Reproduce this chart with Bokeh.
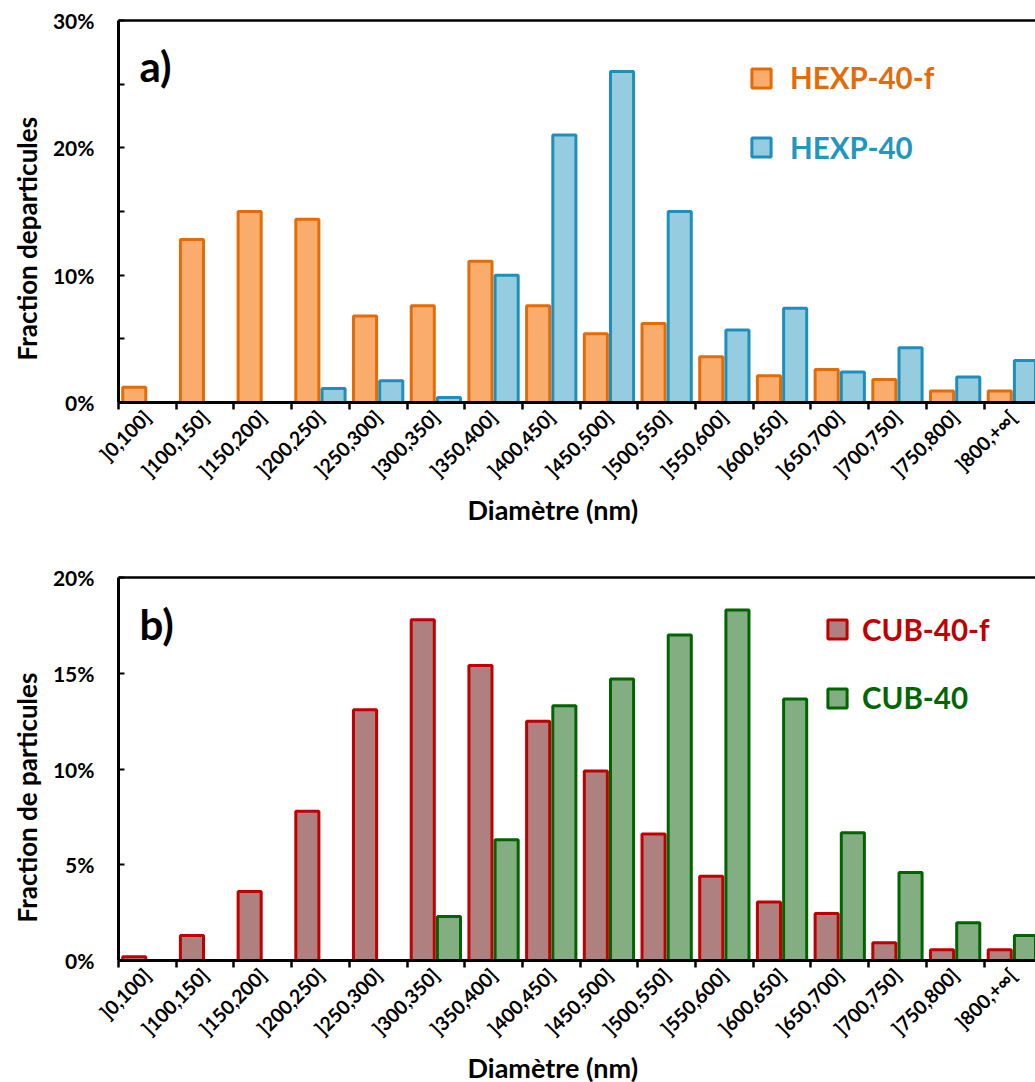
import math
import numpy as np
from bokeh.plotting import figure
from bokeh.models import (Range1d, FixedTicker, NumeralTickFormatter, LinearAxis,
                          Legend, LegendItem, Label, Title, ColumnDataSource)
from bokeh.layouts import column
from bokeh.embed import file_html
from bokeh.resources import INLINE

categories = ["]0,100]", "]100,150]", "]150,200]", "]200,250]", "]250,300]",
              "]300,350]", "]350,400]", "]400,450]", "]450,500]", "]500,550]",
              "]550,600]", "]600,650]", "]650,700]", "]700,750]", "]750,800]",
              "]800,+\u221e["]

# values in percent
hexp40f = [1.2, 12.8, 15.0, 14.4, 6.8, 7.6, 11.1, 7.6, 5.4, 6.2, 3.6, 2.1, 2.6, 1.8, 0.9, 0.9]
hexp40 = [0, 0, 0, 1.1, 1.7, 0.4, 10.0, 21.0, 26.0, 15.0, 5.7, 7.4, 2.4, 4.3, 2.0, 3.3]
cub40f = [0.2, 1.3, 3.6, 7.8, 13.1, 17.8, 15.4, 12.5, 9.9, 6.6, 4.4, 3.05, 2.45, 0.93, 0.56, 0.56]
cub40 = [0, 0, 0, 0, 0, 2.3, 6.3, 13.3, 14.7, 17.0, 18.3, 13.65, 6.67, 4.6, 1.97, 1.3]

FONT = "Lato"
CAT_PX = 57.7
FRAME_W = 917


def panel(s1, s2, names, fills, lines, textcols, ymax, ticks, minor, ylabel,
          letter, frame_h, top, bottom, letter_y, ytitle_off, leg_x, leg_y, leg_gap, leg_standoff):
    n = len(categories)
    centers = [i + 0.5 for i in range(n)]
    xend = FRAME_W / CAT_PX
    p = figure(frame_width=FRAME_W, frame_height=frame_h,
               x_range=Range1d(0, xend), y_range=Range1d(0, ymax),
               output_backend="svg", toolbar_location=None,
               min_border_left=118, min_border_right=0,
               min_border_top=top, min_border_bottom=bottom)
    p.outline_line_color = None
    p.grid.visible = False
    p.background_fill_color = "white"
    p.border_fill_color = "white"

    off = 0.227
    w = 0.40
    rends = []
    for k, (s, fc, lc) in enumerate(zip((s1, s2), fills, lines)):
        vals = [v / 100.0 if v > 0 else np.nan for v in s]
        src = ColumnDataSource(dict(x=[c + (-off if k == 0 else off) for c in centers], top=vals))
        r = p.vbar(x="x", top="top", bottom=0, width=w, source=src,
                   fill_color=fc, line_color=lc, line_width=3)
        rends.append(r)

    # x axis
    xa = p.xaxis[0]
    xa.ticker = FixedTicker(ticks=centers, minor_ticks=list(range(n + 1)))
    xa.major_label_overrides = {c: lab for c, lab in zip(centers, categories)}
    xa.major_tick_line_color = None
    xa.major_tick_out = 0
    xa.major_tick_in = 0
    xa.minor_tick_line_color = "black"
    xa.minor_tick_line_width = 2.5
    xa.minor_tick_out = 7
    xa.minor_tick_in = 0
    xa.axis_line_width = 3
    xa.axis_line_color = "black"
    xa.major_label_orientation = math.pi / 4
    xa.major_label_text_font = FONT
    xa.major_label_text_font_style = "bold"
    xa.major_label_text_font_size = "19.5px"
    xa.major_label_text_color = "black"
    xa.major_label_standoff = 4

    # y axis
    ya = p.yaxis[0]
    ya.ticker = FixedTicker(ticks=ticks, minor_ticks=minor)
    ya.formatter = NumeralTickFormatter(format="0%")
    ya.major_tick_in = 6
    ya.major_tick_out = 0
    ya.minor_tick_in = 6
    ya.minor_tick_out = 0
    ya.major_tick_line_width = 2
    ya.minor_tick_line_width = 2
    ya.major_tick_line_color = "black"
    ya.minor_tick_line_color = "black"
    ya.axis_line_width = 3
    ya.axis_line_color = "black"
    ya.major_label_text_font = FONT
    ya.major_label_text_font_style = "bold"
    ya.major_label_text_font_size = "21px"
    ya.major_label_text_color = "black"
    ya.major_label_standoff = 24

    # top border line
    ta = LinearAxis(ticker=FixedTicker(ticks=[]), axis_line_width=2.5,
                    axis_line_color="black", major_label_text_font_size="0px",
                    major_tick_line_color=None, minor_tick_line_color=None)
    p.add_layout(ta, "above")

    # axis titles
    p.add_layout(Title(text=ylabel, align="left", offset=ytitle_off, standoff=13,
                       text_font=FONT, text_font_style="bold", text_font_size="26px",
                       text_color="black"), "left")
    p.add_layout(Title(text="Diamètre (nm)", align="left", offset=349, standoff=0,
                       vertical_align="top",
                       text_font=FONT, text_font_style="bold", text_font_size="27px",
                       text_color="black"), "below")
    p.add_layout(Label(x=21 / CAT_PX, y=letter_y, text=letter,
                       text_align="left", text_baseline="middle", text_font=FONT,
                       text_font_style="bold", text_font_size="42px", text_color="black"))

    # legends
    for k in range(2):
        lg = Legend(items=[LegendItem(label=names[k], renderers=[rends[k]])],
                    location=(leg_x, leg_y - k * leg_gap),
                    label_text_color=textcols[k], label_text_font=FONT,
                    label_text_font_style="bold", label_text_font_size="29.5px",
                    glyph_width=24, glyph_height=24, label_standoff=leg_standoff,
                    padding=0, margin=0, border_line_color=None,
                    background_fill_alpha=0, spacing=0)
        p.add_layout(lg)
    return p


p1 = panel(hexp40f, hexp40, ["HEXP-40-f", "HEXP-40"],
           ["#F9AC6B", "#95CCDF"], ["#E36C09", "#1E8FBB"], ["#E36C09", "#2196BF"],
           0.30, [0, 0.1, 0.2, 0.3], [0.05, 0.15, 0.25], "Fraction departicules", "a)",
           382, 20, 161, (402 - 66) / 1273.0, 42,
           631, 307, 69.5, 17)

p2 = panel(cub40f, cub40, ["CUB-40-f", "CUB-40"],
           ["#AE8080", "#82AE82"], ["#C00000", "#006400"], ["#C00000", "#006600"],
           0.20, [0, 0.05, 0.1, 0.15, 0.2], [], "Fraction de particules", "b)",
           383, 14, 100, (960 - 624) / 1910.0, 38,
           707, 313.5, 68.5, 13)

layout = column(p1, p2, spacing=0)
open("out.html", "w").write(file_html(layout, INLINE))
